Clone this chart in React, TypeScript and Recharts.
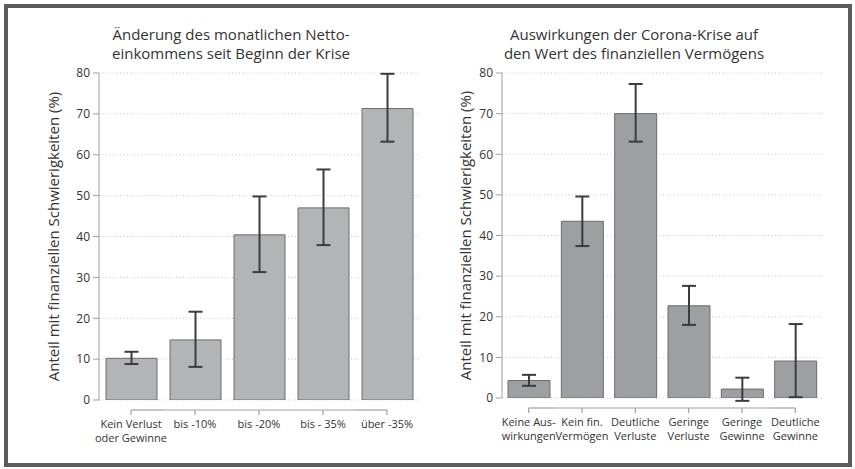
import { BarChart, Bar, XAxis, YAxis, CartesianGrid, ErrorBar } from 'recharts'

const leftCategories = ['Kein Verlust\noder Gewinne', 'bis -10%', 'bis -20%', 'bis - 35%', 'über -35%']
const leftValues = [10.2, 14.7, 40.4, 47.0, 71.3]
const leftLower = [8.8, 8.1, 31.3, 37.9, 63.2]
const leftUpper = [11.8, 21.6, 49.8, 56.4, 79.8]

const rightCategories = [
  'Keine Aus-\nwirkungen',
  'Kein fin.\nVermögen',
  'Deutliche\nVerluste',
  'Geringe\nVerluste',
  'Geringe\nGewinne',
  'Deutliche\nGewinne',
]
const rightValues = [4.3, 43.5, 70.0, 22.7, 2.2, 9.1]
const rightLower = [3.0, 37.4, 63.1, 18.0, -0.7, 0.2]
const rightUpper = [5.7, 49.6, 77.3, 27.6, 5.0, 18.2]

const leftTitle = ['Änderung des monatlichen Netto-', 'einkommens seit Beginn der Krise']
const rightTitle = ['Auswirkungen der Corona-Krise auf', 'den Wert des finanziellen Vermögens']

const yTicks = [0, 10, 20, 30, 40, 50, 60, 70, 80]
const yLabel = 'Anteil mit finanziellen Schwierigkeiten (%)'
const FONT = '"Open Sans", "Noto Sans", sans-serif'

function buildRows(cats: string[], vals: number[], lo: number[], hi: number[]) {
  return cats.map((c, i) => ({
    name: c,
    value: vals[i],
    err: [vals[i] - lo[i], hi[i] - vals[i]],
  }))
}

// base-R style axis: line from first to last tick, ticks pointing down
function BracketTick(props: any) {
  const { x, y, payload, index, count, band } = props
  const half = band / 2
  const x0 = index === 0 ? x : x - half
  const x1 = index === count - 1 ? x : x + half
  const lines = String(payload.value).split('\n')
  return (
    <g>
      <line x1={x0} x2={x1} y1={y + 10} y2={y + 10} stroke="#a0a0a0" strokeWidth={1.2} />
      <line x1={x} x2={x} y1={y + 10} y2={y + 15} stroke="#a0a0a0" strokeWidth={1.2} />
      <text x={x} y={y + 28} textAnchor="middle" fill="#333" fontSize={11} fontFamily={FONT}>
        {lines.map((l, i) => (
          <tspan key={i} x={x} dy={i === 0 ? 0 : 13.5}>
            {l}
          </tspan>
        ))}
      </text>
    </g>
  )
}

interface PanelProps {
  rows: { name: string; value: number; err: number[] }[]
  width: number
  height: number
  margin: { top: number; right: number; bottom: number; left: number }
  barSize: number
  fill: string
  labelOffset: number
}

function Panel({ rows, width, height, margin, barSize, fill, labelOffset }: PanelProps) {
  const plotW = width - margin.left - margin.right - 50
  const band = plotW / rows.length
  return (
    <BarChart width={width} height={height} data={rows} margin={margin}>
      <CartesianGrid
        horizontal
        vertical={false}
        stroke="#c4c4c4"
        strokeDasharray="1 2.5"
      />
      <XAxis
        dataKey="name"
        interval={0}
        height={50}
        axisLine={false}
        tickLine={false}
        tickSize={0}
        tickMargin={0}
        tick={<BracketTick count={rows.length} band={band} />}
      />
      <YAxis
        width={50}
        domain={[0, 80]}
        ticks={yTicks}
        allowDataOverflow
        interval={0}
        stroke="#a0a0a0"
        tickSize={6}
        tickMargin={3}
        tick={{ fill: '#333', fontSize: 12, fontFamily: FONT }}
        label={{
          value: yLabel,
          angle: -90,
          position: 'insideLeft',
          offset: labelOffset,
          style: { textAnchor: 'middle', fill: '#333', fontSize: 15, fontFamily: FONT },
        }}
      />
      <Bar
        dataKey="value"
        fill={fill}
        stroke="#6c6c6e"
        strokeWidth={1}
        barSize={barSize}
        isAnimationActive={false}
      >
        <ErrorBar dataKey="err" width={7} strokeWidth={2} stroke="#3c3c3c" isAnimationActive={false} />
      </Bar>
    </BarChart>
  )
}

function Title({ lines, cx }: { lines: string[]; cx: number }) {
  return (
    <>
      {lines.map((l, i) => (
        <div
          key={i}
          style={{
            position: 'absolute',
            left: cx,
            top: 25 + i * 18.5,
            fontFamily: FONT,
            fontSize: 15,
            lineHeight: '18px',
            color: '#333',
            whiteSpace: 'nowrap',
            transform: 'translateX(-50%)',
          }}
        >
          {l}
        </div>
      ))}
    </>
  )
}

export default function App() {
  const leftRows = buildRows(leftCategories, leftValues, leftLower, leftUpper)
  const rightRows = buildRows(rightCategories, rightValues, rightLower, rightUpper)
  return (
    <div
      style={{
        position: 'fixed',
        left: 0,
        top: 0,
        width: 855,
        height: 469,
        background: '#fff',
        overflow: 'hidden',
      }}
    >
      <div
        style={{
          position: 'absolute',
          left: 4,
          top: 4,
          width: 848,
          height: 463,
          boxSizing: 'border-box',
          border: '4px solid #5c5c5c',
        }}
      />
      <Title lines={leftTitle} cx={231} />
      <Title lines={rightTitle} cx={634} />
      <div style={{ position: 'absolute', left: 0, top: 0 }}>
        <Panel
          rows={leftRows}
          width={430}
          height={469}
          margin={{ top: 73, right: 11, bottom: 19, left: 49 }}
          barSize={51}
          fill="#b3b4b8"
          labelOffset={5}
        />
      </div>
      <div style={{ position: 'absolute', left: 430, top: 0 }}>
        <Panel
          rows={rightRows}
          width={425}
          height={469}
          margin={{ top: 73, right: 33, bottom: 21, left: 22 }}
          barSize={42}
          fill="#9e9fa3"
          labelOffset={14}
        />
      </div>
    </div>
  )
}
